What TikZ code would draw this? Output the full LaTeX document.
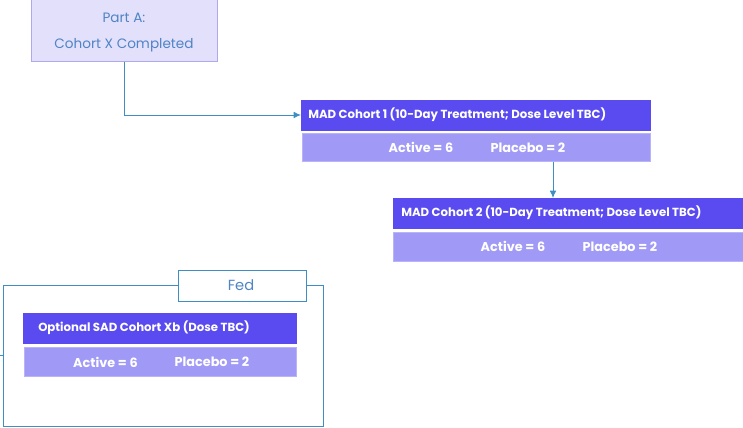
\documentclass[tikz,border=0pt]{standalone}
\usepackage{fontspec}
\setmainfont{Poppins}
\usepackage{tikz}
\usetikzlibrary{arrows.meta}
\definecolor{headblue}{HTML}{5A4BF0}
\definecolor{rowblue}{HTML}{A09AF6}
\definecolor{rowedge}{HTML}{B9B4F8}
\definecolor{partfill}{HTML}{E2E0FA}
\definecolor{partedge}{HTML}{AFA8EE}
\definecolor{linkblue}{HTML}{3E8EC4}
\definecolor{textblue}{HTML}{4F84C6}
\tikzset{
  headbox/.style={draw=headblue, fill=headblue, text=white, font=\bfseries\fontsize{8.8}{10}\selectfont, anchor=north west, inner sep=0pt},
  rowbox/.style={draw=rowedge, fill=rowblue, anchor=north west, inner sep=0pt},
  rowtext/.style={text=white, font=\bfseries\fontsize{9.6}{11}\selectfont},
  link/.style={draw=linkblue, line width=0.7pt},
  tip/.style={-{Latex[length=5.5pt, width=5pt]}}
}
\begin{document}
\begin{tikzpicture}[x=0.75pt, y=-0.75pt]
		\useasboundingbox (0,0) rectangle (743,428);
		% part A
		\node[draw=partedge, fill=partfill, anchor=north west, minimum width=186*0.75pt, minimum height=62*0.75pt, inner sep=0pt] (PA) at (31,-1) {};
		\node[text=textblue, font=\fontsize{10.2}{12}\selectfont] at (124,18) {Part A:};
		\node[text=textblue, font=\fontsize{10.2}{12}\selectfont] at (124,45) {Cohort X Completed};
		
		% MAD cohort 1
		\node[headbox, minimum width=349*0.75pt, minimum height=30*0.75pt] (H1) at (301,100) {};
		\node[headbox, anchor=west] at (308,115) {MAD Cohort 1 (10-Day Treatment; Dose Level TBC)};
		\node[rowbox, minimum width=348*0.75pt, minimum height=28*0.75pt] (R1) at (302,133) {};
		\node[rowtext] at (421,147.5) {Active = 6};
		\node[rowtext] at (528,147.5) {Placebo = 2};
		
		% MAD cohort 2
		\node[headbox, minimum width=352*0.75pt, minimum height=30*0.75pt] (H2) at (393,198) {};
		\node[headbox, anchor=west] at (401,213) {MAD Cohort 2 (10-Day Treatment; Dose Level TBC)};
		\node[rowbox, minimum width=352*0.75pt, minimum height=29*0.75pt] (R2) at (393,232) {};
		\node[rowtext] at (513,246.5) {Active = 6};
		\node[rowtext] at (620,246.5) {Placebo = 2};
		
		% fed group
		\coordinate (F0) at (0,355);
		\draw[link] (3,285) rectangle (323,426);
		\node[draw=linkblue, line width=0.7pt, fill=white, anchor=north west, minimum width=128*0.75pt, minimum height=31*0.75pt, inner sep=0pt] (FT) at (178,270) {};
		\node[text=textblue, font=\fontsize{11}{13}\selectfont] at (241,285.5) {Fed};
		\node[headbox, minimum width=273*0.75pt, minimum height=30*0.75pt] (H3) at (23,313) {};
		\node[headbox, anchor=west] at (38,328) {Optional SAD Cohort Xb (Dose TBC)};
		\node[rowbox, minimum width=272*0.75pt, minimum height=29*0.75pt] (R3) at (24,347) {};
		\node[rowtext] at (105.5,362) {Active = 6};
		\node[rowtext] at (212,362) {Placebo = 2};
		
		% links
		\coordinate (L1) at (124,115);
		\draw[link, tip] (PA.south -| L1) -- (L1) -- (H1.west |- L1);
		\coordinate (L2) at (553,161);
		\draw[link, tip] (R1.south -| L2) -- (H2.north -| L2);
		\draw[link] (F0) -- (3,355);
		\end{tikzpicture}
\end{document}
